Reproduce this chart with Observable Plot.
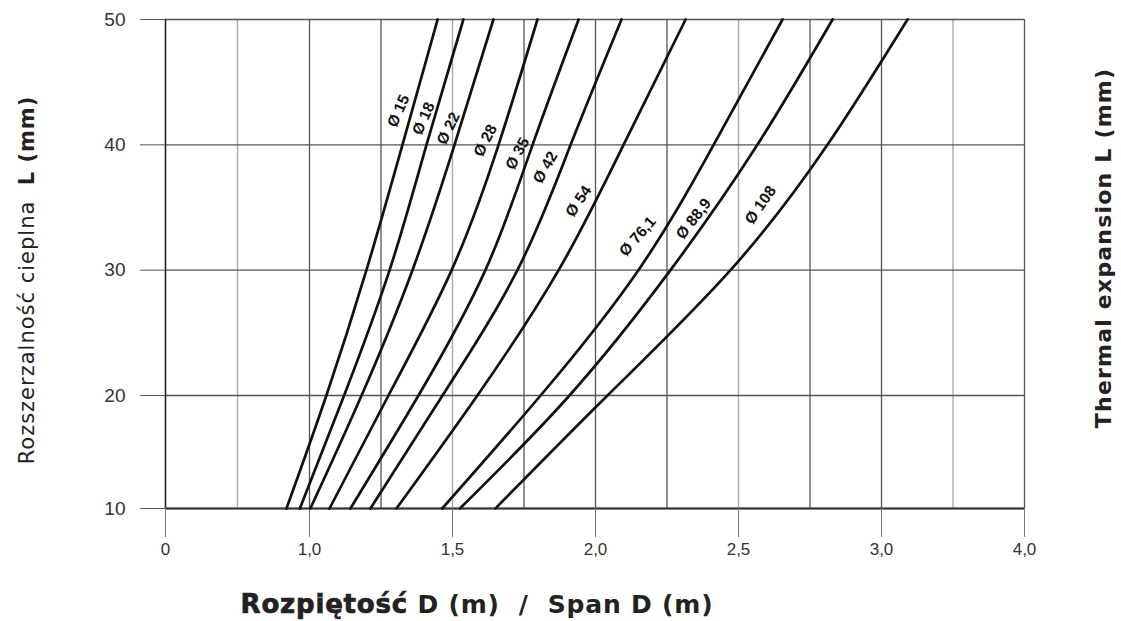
<!DOCTYPE html>
<html><head><meta charset="utf-8">
<script src="https://cdn.jsdelivr.net/npm/d3@7"></script>
<script src="https://cdn.jsdelivr.net/npm/@observablehq/plot@0.6"></script>
<style>body{margin:0;background:#fff}</style>
</head><body><div id="chart"></div>
<script>
// Pipe diameters (labels)
const pipes = ["Ø 15","Ø 18","Ø 22","Ø 28","Ø 35","Ø 42","Ø 54","Ø 76,1","Ø 88,9","Ø 108"];
// Thermal expansion L (mm) at which the span was read
const expansionL = [10, 20, 30, 40, 50];
// Span D (m) for each pipe at the expansion values above
const span15  = [0.840, 1.059, 1.199, 1.325, 1.448];
const span18  = [0.933, 1.121, 1.280, 1.409, 1.538];
const span22  = [1.003, 1.182, 1.360, 1.507, 1.643];
const span28  = [1.070, 1.276, 1.497, 1.661, 1.797];
const span35  = [1.143, 1.381, 1.615, 1.780, 1.941];
const span42  = [1.213, 1.465, 1.727, 1.913, 2.091];
const span54  = [1.304, 1.587, 1.871, 2.098, 2.315];
const span76  = [1.464, 1.808, 2.150, 2.413, 2.654];
const span89  = [1.526, 1.909, 2.262, 2.566, 2.829];
const span108 = [1.650, 2.042, 2.472, 2.811, 3.182];
// Where each diameter label sits (D, L)
const labelD = [1.311, 1.399, 1.486, 1.615, 1.727, 1.825, 1.941, 2.147, 2.343, 2.577];
const labelL = [42.7, 42.1, 41.3, 40.35, 39.3, 38.2, 35.5, 32.7, 34.1, 35.2];
// Axis ticks
const xTicks = [0, 1, 1.5, 2, 2.5, 3, 4];
const yTicks = [10, 20, 30, 40, 50];
const xGridDark = [1, 1.25, 1.75, 2, 2.25, 2.75, 3, 4];
const xGridLight = [0.5, 1.5, 2.5, 3.5];

const spans = [span15, span18, span22, span28, span35, span42, span54, span76, span89, span108];
const rows = pipes.flatMap((p, i) => expansionL.map((L, j) => ({pipe: p, D: spans[i][j], L})));
const labelAngle = [-66, -66, -64, -63, -62, -60, -56, -49, -52, -55];
const labels = pipes.map((p, i) => ({pipe: p, D: labelD[i], L: labelL[i], a: labelAngle[i]}));

const svg = Plot.plot({
  width: 1121, height: 621,
  marginLeft: 165, marginRight: 97, marginTop: 19, marginBottom: 113,
  style: {background: "#fff", fontFamily: "'Liberation Sans Narrow','Liberation Sans',Arial,sans-serif"},
  x: {type: "linear", domain: [0, 1, 3, 4], range: [165, 309, 881, 1024]},
  y: {type: "linear", domain: [10, 20, 50], range: [508, 395, 19]},
  marks: [
    Plot.ruleX(xGridLight, {y1: 10, y2: 50, stroke: "#aaa", strokeWidth: 1.4}),
    Plot.ruleX(xGridDark, {y1: 10, y2: 50, stroke: "#555", strokeWidth: 1.3}),
    Plot.ruleY(yTicks, {x1: 0, x2: 4, stroke: "#555", strokeWidth: 1.3}),
    Plot.ruleY([10], {x1: 0, x2: 4, stroke: "#333", strokeWidth: 2}),
    Plot.ruleX([0], {y1: 10, y2: 50, stroke: "#222", strokeWidth: 1.6}),
    Plot.axisX({ticks: xTicks, tickFormat: d => d === 0 ? "0" : d.toFixed(1).replace(".", ","),
      tickSize: 29, tickPadding: 5, stroke: "#777", fill: "#333", fontSize: 17, label: null}),
    Plot.axisY({ticks: yTicks, tickFormat: d => String(d), tickSize: 25, tickPadding: 15,
      stroke: "#555", fill: "#333", fontSize: 19, label: null}),
    Plot.line(rows, {x: "D", y: "L", z: "pipe", curve: "natural", stroke: "#111", strokeWidth: 2.7}),
    Plot.text(labels, {x: "D", y: "L", text: "pipe", rotate: "a", fontSize: 15.5, fontWeight: "bold",
      fill: "#111", fontFamily: "'Liberation Sans',Arial,sans-serif"})
  ]
});

const s = d3.select(svg);
const lt = s.append("text").attr("transform", "translate(34,280) rotate(-90)")
  .attr("text-anchor", "middle").attr("font-family", "DejaVu Sans").attr("font-size", 21)
  .attr("letter-spacing", 1).attr("fill", "#222");
lt.append("tspan").text("Rozszerzalność cieplna  ");
lt.append("tspan").attr("font-weight", "bold").text("L (mm)");
s.append("text").attr("transform", "translate(1111,248) rotate(-90)")
  .attr("text-anchor", "middle").attr("font-family", "DejaVu Sans").attr("font-weight", "bold")
  .attr("font-size", 22).attr("letter-spacing", 1.2).attr("fill", "#222").text("Thermal expansion L (mm)");
const xt = s.append("text").attr("transform", "translate(477,613)")
  .attr("text-anchor", "middle").attr("font-family", "DejaVu Sans").attr("font-weight", "bold")
  .attr("font-size", 25).attr("letter-spacing", 0.8).attr("fill", "#222");
xt.append("tspan").attr("font-size", 26).attr("stroke", "#222").attr("stroke-width", 0.7).text("Rozpiętość");
xt.append("tspan").text(" D (m)  /  Span D (m)");

document.getElementById("chart").append(svg);
</script>
</body></html>
